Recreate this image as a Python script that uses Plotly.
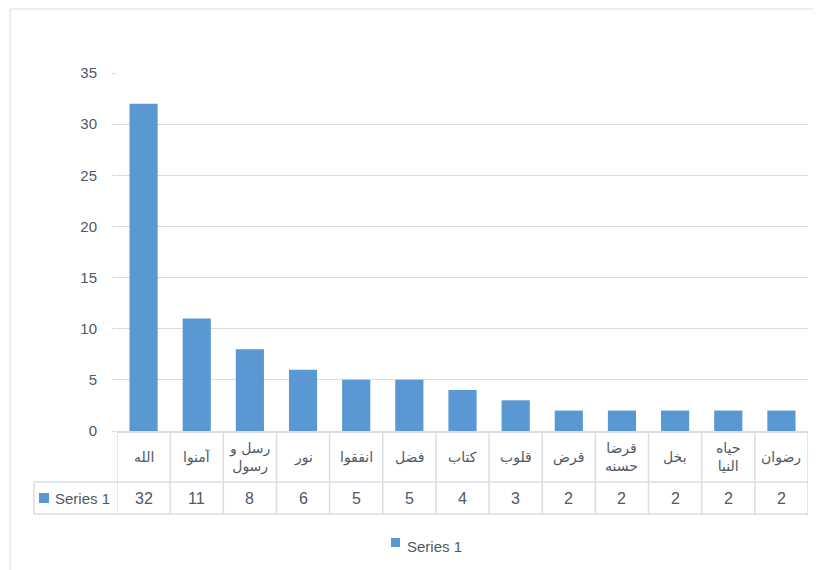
import plotly.graph_objects as go

categories = ["الله", "آمنوا", "رسل و<br>رسول", "نور", "انفقوا", "فضل", "كتاب",
              "قلوب", "قرض", "قرضا<br>حسنه", "بخل", "حياه<br>النيا", "رضوان"]
values = [32, 11, 8, 6, 5, 5, 4, 3, 2, 2, 2, 2, 2]
series_name = "Series 1"
y_ticks = [0, 5, 10, 15, 20, 25, 30, 35]

# page has an 8px body margin; figure sized to fill the 821x570 window
OFF = 8
W, H = 821 - OFF, 570 - OFF
PL, PR, PT, PB = 117, 808, 73, 431          # plot area in page pixels
L, R, T, B = PL - OFF, W - (PR - OFF), PT - OFF, H - (PB - OFF)
pw, ph = PR - PL, PB - PT

def px(x):
    return (x - PL) / pw

def py(y):
    return (PB - y) / ph

BAR = "#5A98D3"
GRID = "#DADCE0"
LINE = "#D9DEE4"
TXT = "#4E5867"
FONT = "Liberation Sans, DejaVu Sans, sans-serif"

xs = list(range(len(categories)))

fig = go.Figure()
fig.add_trace(go.Bar(x=xs, y=values, name=series_name, marker=dict(color=BAR, line=dict(width=0)),
                     showlegend=False))

shapes = []
annotations = []
# outer chart border
shapes.append(dict(type="rect", xref="paper", yref="paper", x0=px(10), x1=px(840), y0=py(600), y1=py(9),
                   line=dict(color=GRID, width=1), layer="below"))
# table verticals
n = len(categories)
for i in range(n + 1):
    shapes.append(dict(type="line", xref="x", yref="paper", x0=i - 0.5, x1=i - 0.5, y0=0, y1=py(514),
                       line=dict(color=LINE, width=1.5)))
# table horizontals
for yy in (482, 514):
    shapes.append(dict(type="line", xref="paper", yref="paper", x0=px(34), x1=1, y0=py(yy), y1=py(yy),
                       line=dict(color=LINE, width=1.5)))
shapes.append(dict(type="line", xref="paper", yref="paper", x0=px(34), x1=px(34), y0=py(482), y1=py(514),
                   line=dict(color=LINE, width=1.5)))
# series key in table
shapes.append(dict(type="rect", xref="paper", yref="paper", x0=px(39), x1=px(49), y0=py(503), y1=py(493),
                   fillcolor=BAR, line=dict(width=0)))
annotations.append(dict(x=px(53), y=py(499), xref="paper", yref="paper", text=series_name, showarrow=False,
                        xanchor="left", yanchor="middle", font=dict(size=15, color=TXT, family=FONT)))
# legend below
shapes.append(dict(type="rect", xref="paper", yref="paper", x0=px(391), x1=px(400), y0=py(547), y1=py(538),
                   fillcolor=BAR, line=dict(width=0)))
annotations.append(dict(x=px(405), y=py(546), xref="paper", yref="paper", text=series_name, showarrow=False,
                        xanchor="left", yanchor="middle", font=dict(size=15, color=TXT, family=FONT)))

for i, (c, v) in enumerate(zip(categories, values)):
    annotations.append(dict(x=i, y=py(457), xref="x", yref="paper", text=c, showarrow=False,
                            xanchor="center", yanchor="middle",
                            font=dict(size=14, color=TXT, family="DejaVu Sans, sans-serif")))
    annotations.append(dict(x=i, y=py(499), xref="x", yref="paper", text=str(v), showarrow=False,
                            xanchor="center", yanchor="middle", font=dict(size=16, color=TXT, family=FONT)))

fig.update_layout(
    width=W, height=H,
    margin=dict(l=L, r=R, t=T, b=B),
    paper_bgcolor="white", plot_bgcolor="white",
    bargap=0.47,
    showlegend=False,
    font=dict(family=FONT, color=TXT, size=15),
    xaxis=dict(range=[-0.5, n - 0.5], showticklabels=False, showgrid=False, zeroline=False,
               showline=True, linecolor=LINE, linewidth=1.5, ticks=""),
    yaxis=dict(range=[0, 35], tickvals=y_ticks, showgrid=True, gridcolor=GRID, gridwidth=1,
               zeroline=False, showline=False, ticks="outside", ticklen=4, tickcolor=GRID,
               ticklabelstandoff=12,
               tickfont=dict(size=15, color=TXT, family=FONT)),
    shapes=shapes,
    annotations=annotations,
)

fig.write_html("out.html")
